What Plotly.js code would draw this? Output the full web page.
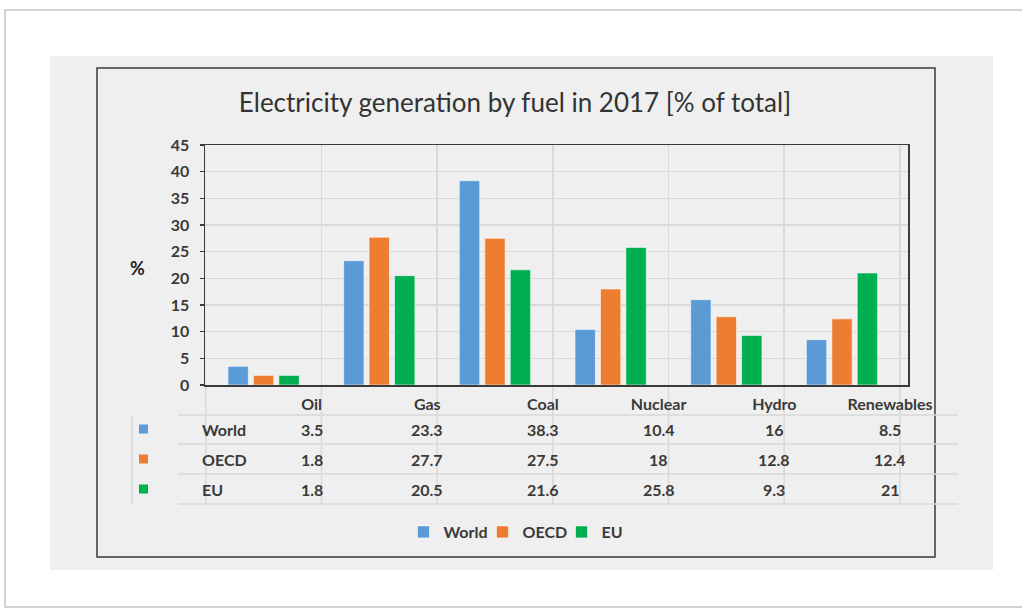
<!DOCTYPE html>
<html>
<head>
<meta charset="utf-8">
<script src="https://cdn.plot.ly/plotly-3.0.1.min.js"></script>
<style>
  html, body { margin: 0; padding: 0; background: #ffffff; }
  #chart { width: 1022px; height: 612px; }
</style>
</head>
<body>
<div id="chart"></div>
<script>
// Electricity generation by fuel, 2017, share of total (%)
const fuels = ["Oil", "Gas", "Coal", "Nuclear", "Hydro", "Renewables"];
const regions = ["World", "OECD", "EU"];
const world = [3.5, 23.3, 38.3, 10.4, 16, 8.5];
const oecd  = [1.8, 27.7, 27.5, 18, 12.8, 12.4];
const eu    = [1.8, 20.5, 21.6, 25.8, 9.3, 21];
const colors = ["#5B9BD5", "#ED7D31", "#00B050"];
const yTicks = [0, 5, 10, 15, 20, 25, 30, 35, 40, 45];

const seriesValues = [world, oecd, eu];

// Plot area in page pixels
const PL = 205, PR = 908, PT = 145, PB = 385;
const W = 1022, H = 612;
const fx = x => (x - PL) / (PR - PL);
const fy = y => (PB - y) / (PB - PT);

const FONT = "Lato, 'Open Sans', sans-serif";
const TXT = "#3a3a3a";
const GRID = "#d9d9d9";

const traces = regions.map((name, i) => ({
  type: "bar",
  name: name,
  x: fuels,
  y: seriesValues[i],
  marker: { color: colors[i], line: { color: "rgba(255,255,255,0.55)", width: 1 } },
  hoverinfo: "x+y+name"
}));

const shapes = [];
// page frame
shapes.push({ type: "rect", xref: "paper", yref: "paper", layer: "below",
  x0: fx(5), x1: fx(1040), y0: fy(10), y1: fy(607),
  line: { color: "#c4c4c4", width: 1.5 }, fillcolor: "#ffffff" });
// grey panel
shapes.push({ type: "rect", xref: "paper", yref: "paper", layer: "below",
  x0: fx(50), x1: fx(993), y0: fy(56), y1: fy(570),
  line: { width: 0 }, fillcolor: "#efefef" });
// chart border
shapes.push({ type: "rect", xref: "paper", yref: "paper", layer: "below",
  x0: fx(97), x1: fx(935), y0: fy(68), y1: fy(557),
  line: { color: "#3a3a3a", width: 1.5 }, fillcolor: "rgba(0,0,0,0)" });

// data table rules
const rowLines = [415, 444, 474, 504];
rowLines.forEach(y => shapes.push({ type: "line", xref: "paper", yref: "paper", layer: "below",
  x0: fx(178), x1: fx(958), y0: fy(y), y1: fy(y), line: { color: GRID, width: 1.5 } }));
for (let i = 0; i <= fuels.length; i++) {
  shapes.push({ type: "line", xref: "x", yref: "paper", layer: "below",
    x0: i - 0.5, x1: i - 0.5, y0: fy(PB), y1: fy(504), line: { color: GRID, width: 1.5 } });
}
shapes.push({ type: "line", xref: "paper", yref: "paper", layer: "below",
  x0: fx(132), x1: fx(132), y0: fy(415), y1: fy(504), line: { color: GRID, width: 1.5 } });

const rowY = [429, 459, 489];
const annotations = [];
regions.forEach((name, r) => {
  // legend key in the table
  shapes.push({ type: "rect", xref: "paper", yref: "paper",
    x0: fx(139), x1: fx(148), y0: fy(rowY[r] - 4.5), y1: fy(rowY[r] + 4.5),
    line: { width: 0 }, fillcolor: colors[r] });
  annotations.push({ xref: "paper", yref: "paper", x: fx(200), y: fy(rowY[r]),
    xanchor: "left", yanchor: "middle", showarrow: false, text: name,
    font: { family: FONT, size: 16, color: TXT, weight: 700 } });
  seriesValues[r].forEach((v, c) => {
    annotations.push({ xref: "x", yref: "paper", x: fuels[c], xshift: 48, y: fy(rowY[r]),
      xanchor: "center", yanchor: "middle", showarrow: false, text: String(v),
      font: { family: FONT, size: 16, color: TXT, weight: 700 } });
  });
});
annotations.push({ xref: "paper", yref: "paper", x: fx(137), y: fy(268),
  xanchor: "center", yanchor: "middle", showarrow: false, text: "%",
  font: { family: FONT, size: 18, color: "#222222", weight: 700 } });

const layout = {
  width: W, height: H,
  margin: { l: PL, r: W - PR, t: PT, b: H - PB, pad: 0 },
  paper_bgcolor: "#ffffff",
  plot_bgcolor: "rgba(0,0,0,0)",
  font: { family: FONT, color: TXT },
  title: {
    text: "Electricity generation by fuel in 2017 [% of total]",
    xref: "container", yref: "container", x: 515 / W, y: 1 - 103 / H,
    xanchor: "center", yanchor: "middle",
    font: { family: FONT, size: 26, color: "#333333" }
  },
  barmode: "group",
  bargap: 0.34,
  bargroupgap: 0.2,
  xaxis: {
    type: "category",
    tickson: "boundaries",
    showgrid: true, gridcolor: GRID, gridwidth: 1.5,
    showline: true, mirror: true, linecolor: "#3a3a3a", linewidth: 1.5,
    ticks: "", ticklabelshift: 48, ticklabelstandoff: 4,
    tickfont: { family: FONT, size: 16, color: TXT, weight: 700 },
    fixedrange: true
  },
  yaxis: {
    range: [0, 45],
    tickvals: yTicks,
    showgrid: true, gridcolor: GRID, gridwidth: 1.5,
    zeroline: false,
    showline: true, mirror: true, linecolor: "#3a3a3a", linewidth: 1.5,
    ticks: "outside", ticklen: 4, tickcolor: "#3a3a3a", tickwidth: 1.5,
    ticklabelstandoff: 7,
    tickfont: { family: FONT, size: 16, color: TXT, weight: 700 },
    fixedrange: true
  },
  legend: {
    orientation: "h",
    xref: "paper", yref: "paper",
    x: fx(522), y: fy(532), xanchor: "center", yanchor: "middle",
    bgcolor: "rgba(0,0,0,0)",
    font: { family: FONT, size: 16, color: TXT, weight: 700 },
    entrywidth: 34, entrywidthmode: "pixels",
    itemwidth: 30
  },
  shapes: shapes,
  annotations: annotations
};

Plotly.newPlot("chart", traces, layout, { displayModeBar: false, staticPlot: true });
</script>
</body>
</html>
